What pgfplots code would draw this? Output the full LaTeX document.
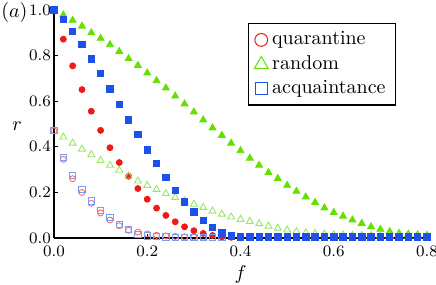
\documentclass[border=0pt]{standalone}
\usepackage{pgfplots}
\pgfplotsset{compat=1.18}
\definecolor{qred}{RGB}{240,25,25}
\definecolor{rgreen}{RGB}{100,225,0}
\definecolor{ablue}{RGB}{30,80,235}
\definecolor{qredl}{RGB}{245,110,110}
\definecolor{rgreenl}{RGB}{150,232,100}
\definecolor{abluel}{RGB}{125,155,240}
\begin{document}
\begin{tikzpicture}
\useasboundingbox (-27pt,-23.5pt) rectangle (191pt,119pt);
\begin{axis}[
 scale only axis, width=186.5pt, height=114pt,
 xmin=0, xmax=0.8, ymin=0, ymax=1,
 axis x line*=bottom, axis y line*=left,
 axis line style={line width=1pt, black},
 xtick={0,0.2,0.4,0.6,0.8}, ytick={0,0.2,0.4,0.6,0.8,1},
 tick align=inside, major tick length=2pt, tick style={black, line width=0.6pt},
 ticklabel style={font=\fontsize{8.5}{10}\selectfont, /pgf/number format/fixed, /pgf/number format/fixed zerofill, /pgf/number format/precision=1},
 yticklabel style={xshift=2pt},
 xticklabel style={yshift=-0.7pt},
 xlabel={$f$}, ylabel={$r$},
 xlabel style={at={(axis description cs:0.5,-0.162)}, anchor=center},
 ylabel style={rotate=-90, at={(axis description cs:-0.099,0.49)}, anchor=center},
 legend style={at={(axis description cs:0.506,0.942)}, anchor=north west, xshift=2.5pt, draw=black, line width=0.6pt, font=\normalsize},
 legend cell align=left,
 clip=false,
]
\addlegendimage{only marks, mark=o, qred, mark size=3.2pt, mark options={line width=0.5pt}}
\addlegendimage{only marks, mark=triangle, rgreen, mark size=4pt, mark options={line width=0.5pt}}
\addlegendimage{only marks, mark=square, ablue, mark size=3pt, mark options={line width=0.5pt}}
\legend{quarantine, random, acquaintance}
% quarantine filled
\addplot[only marks, mark=*, qred, mark size=1.5pt, forget plot] table {
0.02 0.872
0.04 0.755
0.06 0.651
0.08 0.556
0.10 0.472
0.12 0.396
0.14 0.331
0.16 0.271
0.18 0.217
0.20 0.170
0.22 0.131
0.24 0.099
0.26 0.071
0.28 0.049
0.30 0.032
0.32 0.020
0.34 0.011
0.36 0.005
0.38 0.003
0.40 0.001
};
% random filled
\addplot[only marks, mark=triangle*, rgreen, mark size=2pt, forget plot] table {
0.02 0.978
0.04 0.955
0.06 0.929
0.08 0.900
0.10 0.876
0.12 0.848
0.14 0.818
0.16 0.787
0.18 0.757
0.20 0.724
0.22 0.690
0.24 0.658
0.26 0.623
0.28 0.588
0.30 0.553
0.32 0.518
0.34 0.483
0.36 0.450
0.38 0.416
0.40 0.383
0.42 0.350
0.44 0.319
0.46 0.287
0.48 0.261
0.50 0.231
0.52 0.205
0.54 0.180
0.56 0.156
0.58 0.132
0.60 0.112
0.62 0.096
0.64 0.079
0.66 0.064
0.68 0.049
0.70 0.038
0.72 0.028
0.74 0.020
0.76 0.017
0.78 0.014
0.80 0.012
};
% quarantine hollow
\addplot[only marks, mark=o, qredl, mark size=1.5pt, mark options={line width=0.45pt}, forget plot] table {
0.00 0.470
0.02 0.345
0.04 0.260
0.06 0.200
0.08 0.152
0.10 0.110
0.12 0.079
0.14 0.054
0.16 0.034
0.18 0.026
0.20 0.018
0.22 0.012
0.24 0.009
0.26 0.007
0.28 0.005
0.30 0.004
0.32 0.003
};
% random hollow
\addplot[only marks, mark=triangle, rgreenl, mark size=2pt, mark options={line width=0.45pt}, forget plot] table {
0.02 0.443
0.04 0.416
0.06 0.390
0.08 0.365
0.10 0.340
0.12 0.319
0.14 0.297
0.16 0.272
0.18 0.250
0.20 0.231
0.22 0.213
0.24 0.195
0.26 0.178
0.28 0.163
0.30 0.148
0.32 0.134
0.34 0.118
0.36 0.105
0.38 0.092
0.40 0.082
0.42 0.073
0.44 0.063
0.46 0.052
0.48 0.043
0.50 0.035
0.52 0.028
0.54 0.023
0.56 0.020
0.58 0.017
0.60 0.014
0.62 0.013
0.64 0.012
0.66 0.011
0.68 0.010
0.70 0.009
0.72 0.008
0.74 0.007
0.76 0.006
0.78 0.006
0.80 0.005
};
% acquaintance hollow
\addplot[only marks, mark=square, abluel, mark size=1.6pt, mark options={line width=0.45pt}, forget plot] table {
0.00 0.472
0.02 0.352
0.04 0.275
0.06 0.213
0.08 0.163
0.10 0.122
0.12 0.089
0.14 0.060
0.16 0.037
0.18 0.016
0.20 0.009
0.22 0.006
0.24 0.004
0.26 0.003
0.28 0.003
0.30 0.003
0.32 0.003
0.34 0.003
0.36 0.003
};
% acquaintance filled
\addplot[only marks, mark=square*, ablue, mark size=1.6pt, forget plot] table {
0.00 1.000
0.02 0.958
0.04 0.905
0.06 0.850
0.08 0.786
0.10 0.722
0.12 0.654
0.14 0.585
0.16 0.518
0.18 0.454
0.20 0.387
0.22 0.326
0.24 0.265
0.26 0.210
0.28 0.159
0.30 0.115
0.32 0.076
0.34 0.047
0.36 0.023
0.38 0.009
0.40 0.005
0.42 0.005
0.44 0.005
0.46 0.005
0.48 0.005
0.50 0.005
0.52 0.005
0.54 0.005
0.56 0.005
0.58 0.005
0.60 0.005
0.62 0.005
0.64 0.005
0.66 0.005
0.68 0.005
0.70 0.005
0.72 0.005
0.74 0.005
0.76 0.005
0.78 0.005
0.80 0.005
};
\end{axis}
\node[anchor=north west, inner sep=0pt] at (-26.5pt,118pt) {$(a)$};
\end{tikzpicture}
\end{document}
